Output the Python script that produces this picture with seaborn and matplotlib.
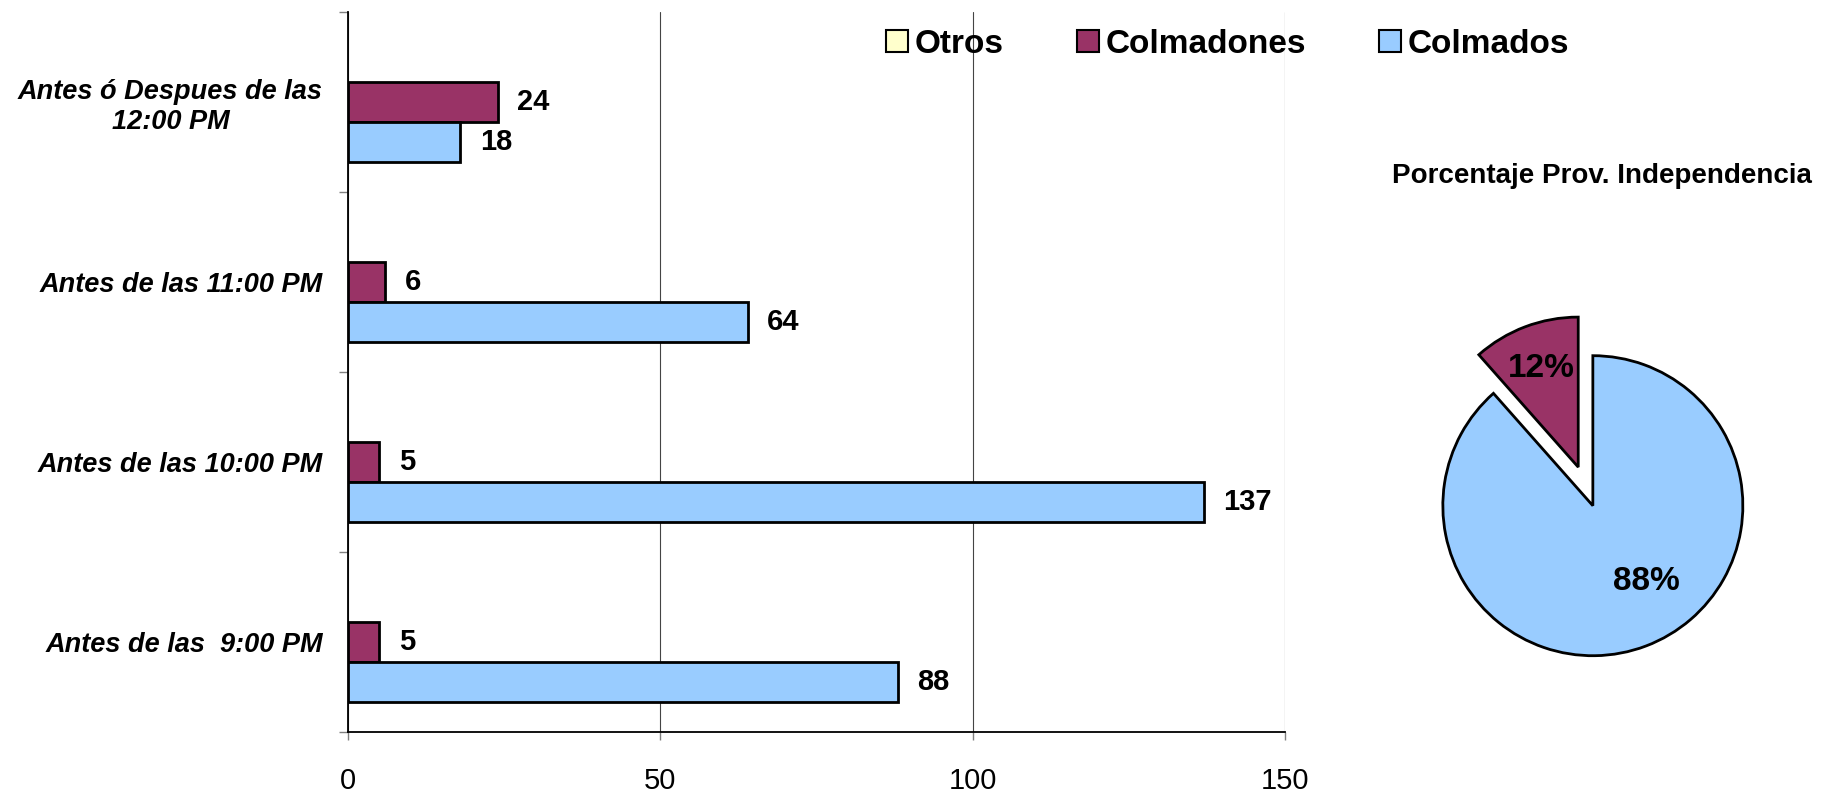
import numpy as np
import pandas as pd
import seaborn as sns
import matplotlib.pyplot as plt
from matplotlib.patches import Patch

# datos por horario
categorias = ["Antes ó Despues de las\n12:00 PM", "Antes de las 11:00 PM",
              "Antes de las 10:00 PM", "Antes de las  9:00 PM"]
otros = [0, 0, 0, 0]
colmadones = [24, 6, 5, 5]
colmados = [18, 64, 137, 88]
series = ["Otros", "Colmadones", "Colmados"]
colores = {"Otros": "#FFFFCC", "Colmadones": "#993366", "Colmados": "#99CCFF"}
x_ticks = [0, 50, 100, 150]

sns.set_style("white")
plt.rcParams['font.family'] = ['Liberation Sans', 'DejaVu Sans']
plt.rcParams['text.color'] = 'black'
plt.rcParams['xtick.labelcolor'] = 'black'
plt.rcParams['ytick.labelcolor'] = 'black'

df = pd.DataFrame({
    "Horario": categorias * 3,
    "Serie": ["Otros"] * 4 + ["Colmadones"] * 4 + ["Colmados"] * 4,
    "Valor": otros + colmadones + colmados,
})

fig = plt.figure(figsize=(18.23, 7.93), dpi=100)
ax = fig.add_axes([0.1909, 0.0769, 0.514, 0.9084])

sns.barplot(data=df, y="Horario", x="Valor", hue="Serie", hue_order=series,
            order=categorias, palette=colores, orient="h", width=0.667,
            saturation=1, edgecolor="black", linewidth=2, ax=ax)
ax.get_legend().remove()
ax.set_xlabel("")
ax.set_ylabel("")
ax.set_xlim(0, 150)
ax.set_ylim(3.5, -0.5)
ax.set_xticks(x_ticks)
ax.set_xticklabels([str(v) for v in x_ticks], fontsize=21)
ax.tick_params(axis="x", length=6, width=1, color="gray", pad=19, direction="out", bottom=True)
ax.set_yticks(range(len(categorias)))
ax.set_yticklabels(categorias, fontsize=19.5, fontweight="bold", fontstyle="italic")
for t in ax.get_yticklabels():
    t.set_multialignment("center")
ax.tick_params(axis="y", which="major", length=0, pad=18)
ax.set_yticks(np.arange(-0.5, len(categorias), 1), minor=True)
ax.tick_params(axis="y", which="minor", length=6.5, width=1, color="gray", left=True, direction="out")
ax.xaxis.grid(True, color="#444444", linewidth=0.8)
ax.set_axisbelow(True)
for s in ["top", "right"]:
    ax.spines[s].set_visible(False)
for s in ["left", "bottom"]:
    ax.spines[s].set_color("black")
    ax.spines[s].set_linewidth(1.3)

# Otros vale cero: sin borde visible
for p in ax.containers[0]:
    p.set_linewidth(0)

# etiquetas de valores (sin Otros)
for cont in ax.containers[1:]:
    ax.bar_label(cont, padding=14, fontsize=21, fontweight="bold", color="black")

handles = [Patch(facecolor=colores[s], edgecolor="black", linewidth=1.5) for s in series]
fig.legend(handles, series, loc="center", bbox_to_anchor=(0.6735, 0.944), ncol=3,
           frameon=False, prop={"size": 24, "weight": "bold"}, handlelength=0.65,
           handleheight=0.65, handletextpad=0.2, columnspacing=2.2)

# pastel
ax2 = fig.add_axes([0.775, 0.1353, 0.1975, 0.454])
totales = [sum(colmados), sum(colmadones)]
wedges, textos, pcts = ax2.pie(totales, colors=[colores["Colmados"], colores["Colmadones"]],
                              explode=[0, 0.275], startangle=90, counterclock=False,
                              autopct="%1.0f%%", pctdistance=0.7,
                              wedgeprops={"edgecolor": "black", "linewidth": 2},
                              textprops={"fontsize": 24, "fontweight": "bold", "color": "black"})
pcts[0].set_position((0.356, -0.508))
ax2.set_xlim(-1.2, 1.2)
ax2.set_ylim(-1.2, 1.2)
ax2.set_aspect("equal")
fig.text(0.8785, 0.778, "Porcentaje Prov. Independencia", ha="center", va="center",
         fontsize=20, fontweight="bold", color="black")

fig.savefig("out.png", dpi=100)
